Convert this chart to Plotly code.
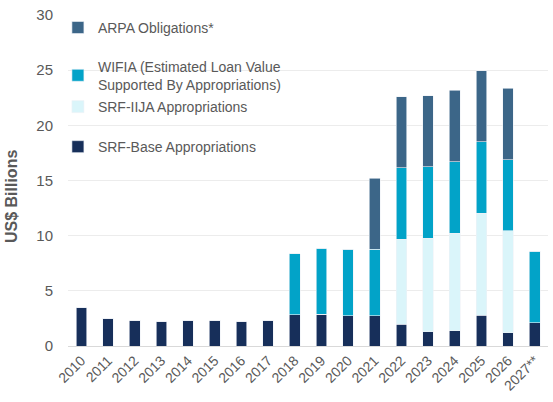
import plotly.graph_objects as go

years = ["2010", "2011", "2012", "2013", "2014", "2015", "2016", "2017", "2018",
         "2019", "2020", "2021", "2022", "2023", "2024", "2025", "2026", "2027**"]

srf_base = [3.5, 2.5, 2.35, 2.24, 2.35, 2.35, 2.24, 2.35, 2.84,
            2.87, 2.75, 2.75, 1.97, 1.3, 1.36, 2.78, 1.18, 2.11]
srf_iija = [0, 0, 0, 0, 0, 0, 0, 0, 0,
            0, 0, 0, 7.7, 8.46, 8.85, 9.25, 9.25, 0]
wifia = [0, 0, 0, 0, 0, 0, 0, 0, 5.5,
         5.99, 6.02, 6.02, 6.5, 6.47, 6.5, 6.47, 6.47, 6.48]
arpa = [0, 0, 0, 0, 0, 0, 0, 0, 0,
        0, 0, 6.43, 6.43, 6.47, 6.49, 6.47, 6.47, 0]

# one legend per series so the entries can sit where the original has them
series = [
    ("SRF-Base Appropriations", srf_base, "#172f5a", "legend4"),
    ("SRF-IIJA Appropriations", srf_iija, "#daf5fa", "legend3"),
    ("WIFIA (Estimated Loan Value<br>Supported By Appropriations)", wifia, "#02a3c8", "legend2"),
    ("ARPA Obligations*", arpa, "#3c6688", "legend5"),
]

fig = go.Figure()
for name, vals, col, leg in series:
    fig.add_trace(go.Bar(
        x=years, y=vals, name=name, legend=leg,
        marker=dict(color=col, line=dict(color="#eef2f6", width=0.6)),
    ))

grey = "#595959"
leg_font = dict(family="Arial", size=14, color=grey)

def leg(y):
    return dict(x=-0.021, y=y, xanchor="left", yanchor="middle",
                bgcolor="rgba(0,0,0,0)", font=leg_font, itemwidth=30)

fig.update_layout(
    width=553, height=402,
    barmode="stack", bargap=0.6,
    plot_bgcolor="white", paper_bgcolor="white",
    margin=dict(l=68, r=5, t=15, b=56, autoexpand=False),
    font=dict(family="Arial", size=14, color=grey),
    showlegend=True,
    legend5=leg(0.961),
    legend2=leg(0.817),
    legend3=leg(0.722),
    legend4=leg(0.601),
    xaxis=dict(tickangle=-45, tickfont=dict(size=14, color=grey),
               showline=True, linecolor="#d9d9d9", linewidth=1, ticks=""),
    yaxis=dict(range=[0, 30], dtick=5, gridcolor="#ececec", zeroline=False,
               tickfont=dict(size=15, color=grey), ticklabelstandoff=14,
               ticklabeloverflow="allow"),
)

# axis title as annotation, it sits a bit below the middle in the original
fig.add_annotation(
    text="<b>US$ Billions</b>", textangle=-90,
    xref="paper", yref="paper", x=0, y=0.45,
    xanchor="center", yanchor="middle", xshift=-57,
    showarrow=False, font=dict(size=16, color=grey),
)

# drop the default 8px body margin of the page
fig.write_html("out.html", config={"displayModeBar": False},
               post_script="document.body.style.margin='0';")
